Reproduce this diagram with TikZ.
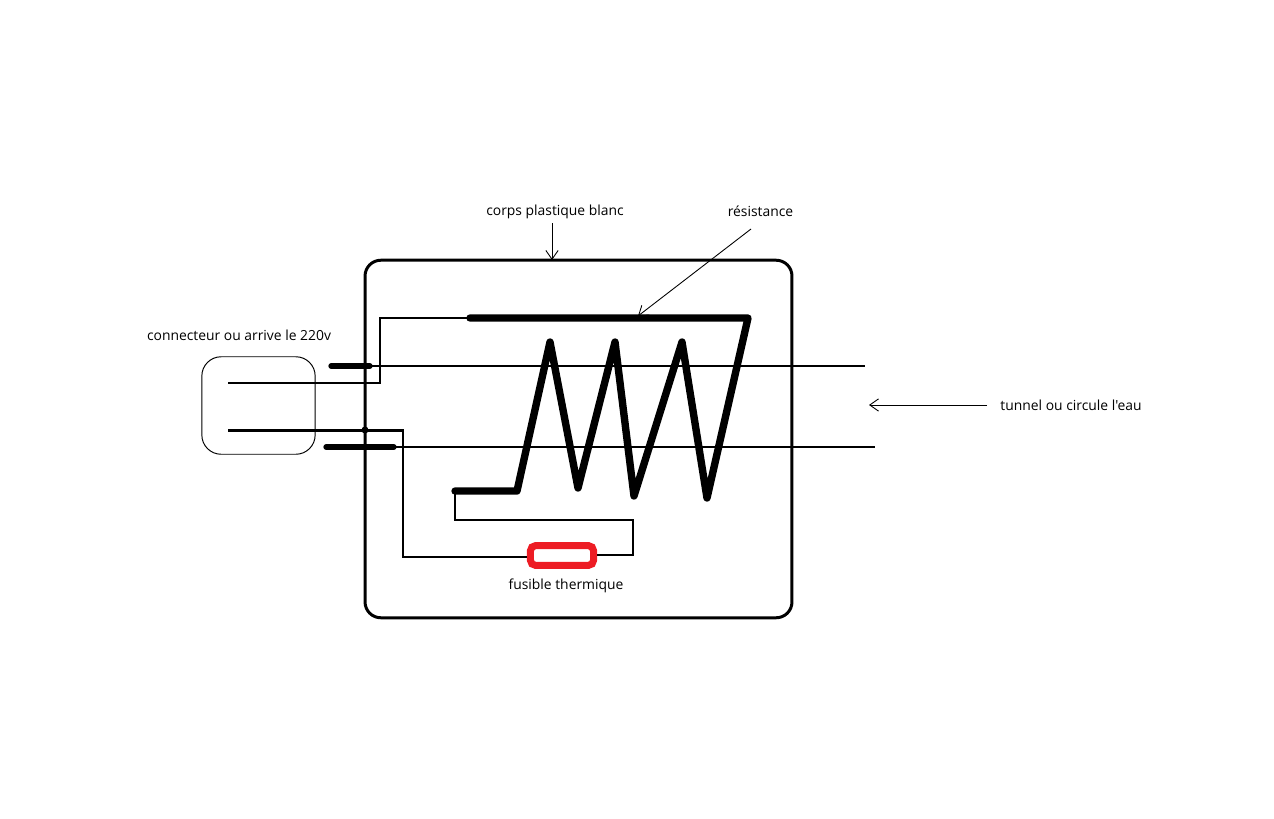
\documentclass[tikz,border=0pt]{standalone}
\usepackage{fontspec}
\setmainfont[Ligatures=TeXOff]{Open Sans}
\usetikzlibrary{arrows.meta}
\definecolor{cred}{rgb}{0.93, 0.11, 0.14}

\begin{document}
\begin{tikzpicture}[x=0.02cm,y=-0.02cm,>={Straight Barb[length=5pt,width=7pt]},
  wire/.style={line width=1.6pt,line join=miter},
  coil/.style={line width=4.2pt,line join=round,line cap=round},
  stub/.style={line width=3pt,line cap=round},
  pointer/.style={line width=0.5pt,->},
  label node/.style={inner sep=0pt,font=\fontsize{7.9pt}{9pt}\selectfont},
  body node/.style={draw,line width=1.7pt,rounded corners=9pt,minimum width=243pt,minimum height=203.5pt,inner sep=0pt},
  plug node/.style={draw,line width=0.55pt,rounded corners=11pt,minimum width=64.5pt,minimum height=55.5pt,inner sep=0pt},
  fuse node/.style={draw=cred,line width=4pt,rounded corners=3pt,minimum width=36pt,minimum height=11.3pt,inner sep=0pt},
  dot node/.style={circle,fill,inner sep=0pt,minimum size=4pt}]
  \useasboundingbox (0,0) rectangle (1274,818);

  \node[body node] (body) at (578.5,439) {};
  \node[plug node] (plug) at (258.5,405.5) {};
  \node[fuse node] (fuse) at (562,555.5) {};
  \node[dot node] (joint) at (365,430) {};

  \node[label node] (bodytext) at (555,212) {corps plastique blanc};
  \node[label node] (restext) at (760.5,211) {résistance};
  \node[label node] (plugtext) at (239,335) {connecteur ou arrive le 220v};
  \node[label node] (tunneltext) at (1071,405) {tunnel ou circule l'eau};
  \node[label node] (fusetext) at (566,586) {fusible thermique};

  % points of the wires
  \coordinate (a1) at (228,383);
  \coordinate (a2) at (380,383);
  \coordinate (a3) at (380,318);
  \coordinate (r1) at (470,318);
  \coordinate (r2) at (748,318);
  \coordinate (r3) at (707,498);
  \coordinate (r4) at (682,342);
  \coordinate (r5) at (634,496);
  \coordinate (r6) at (615,342);
  \coordinate (r7) at (578,488);
  \coordinate (r8) at (550,342);
  \coordinate (r9) at (517,491);
  \coordinate (r10) at (455,491);
  \coordinate (b1) at (455,520);
  \coordinate (b2) at (633,520);
  \coordinate (b3) at (633,555);
  \coordinate (c1) at (403,557);
  \coordinate (c2) at (403,430.5);
  \coordinate (c3) at (228,430.5);

  % the tunnel
  \coordinate (t1) at (331,366);
  \coordinate (t2) at (370,366);
  \coordinate (t3) at (865,366);
  \coordinate (t4) at (326,447);
  \coordinate (t5) at (394,447);
  \coordinate (t6) at (875,447);

  % ends of the pointers
  \coordinate (p1) at (552,223);
  \coordinate (p2) at (552,260);
  \coordinate (p3) at (751,229);
  \coordinate (p4) at (638,316);
  \coordinate (p5) at (987,405);
  \coordinate (p6) at (869,405);

  \draw[wire] (a1) -- (a2) -- (a3) -- (r1);
  \draw[coil] (r1) -- (r2) -- (r3) -- (r4) -- (r5) -- (r6) -- (r7) -- (r8) -- (r9) -- (r10);
  \draw[wire] (r10) -- (b1) -- (b2) -- (b3) -- (fuse.east |- b3);
  \draw[wire] (fuse.west |- c1) -- (c1) -- (c2) -- (c3);

  \draw[stub] (t1) -- (t2);
  \draw[wire] (t2) -- (t3);
  \draw[stub] (t4) -- (t5);
  \draw[wire] (t5) -- (t6);

  \draw[pointer] (p1) -- (p2);
  \draw[pointer] (p3) -- (p4);
  \draw[pointer] (p5) -- (p6);
\end{tikzpicture}
\end{document}
